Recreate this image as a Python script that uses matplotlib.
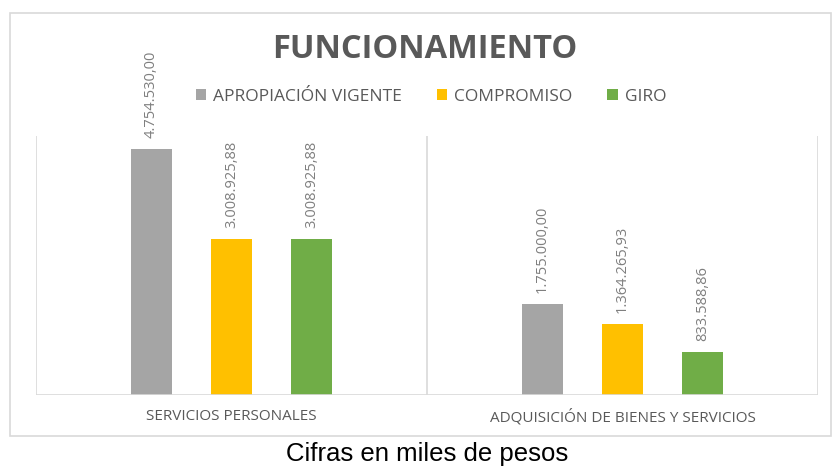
import matplotlib
matplotlib.use("Agg")
import matplotlib.pyplot as plt
from matplotlib.patches import Rectangle, Patch
import numpy as np

categories = ["SERVICIOS PERSONALES", "ADQUISICIÓN DE BIENES Y SERVICIOS"]
series_names = ["APROPIACIÓN VIGENTE", "COMPROMISO", "GIRO"]
apropiacion = [4754530.00, 1755000.00]
compromiso = [3008925.88, 1364265.93]
giro = [3008925.88, 833588.86]
series_values = [apropiacion, compromiso, giro]
colors = ["#A5A5A5", "#FFC000", "#70AD47"]
title = "FUNCIONAMIENTO"
footer = "Cifras en miles de pesos"


def fmt(v):
    s = f"{v:,.2f}"
    return s.replace(",", "X").replace(".", ",").replace("X", ".")


W, H = 832, 466
fig = plt.figure(figsize=(W / 100, H / 100), dpi=100)
fig.patch.set_facecolor("white")

# outer chart frame
fig.add_artist(Rectangle((10 / W, 1 - 436 / H), (831 - 10) / W, (436 - 13) / H,
                         transform=fig.transFigure, fill=False,
                         edgecolor="#D9D9D9", linewidth=1.2))

left, right, top, bottom = 36, 818, 136, 395
ax = fig.add_axes([left / W, 1 - bottom / H, (right - left) / W, (bottom - top) / H])
ax.set_facecolor("none")

x = np.arange(len(categories))
offsets = [-0.2046, 0.0, 0.2046]
bw = 0.107
for vals, off, c, name in zip(series_values, offsets, colors, series_names):
    bars = ax.bar(x + off, vals, width=bw, color=c, label=name, zorder=3)
    for b, v in zip(bars, vals):
        ax.annotate(fmt(v), (b.get_x() + b.get_width() / 2, v),
                    xytext=(0, 8), textcoords="offset points",
                    rotation=90, ha="center", va="bottom",
                    fontsize=10.5, color="#7F7F7F", family="Open Sans")

ax.set_xlim(-0.5, 1.5)
ax.set_ylim(0, 5000000)
for s in ax.spines.values():
    s.set_visible(False)
ax.axhline(0, color="#D9D9D9", linewidth=1.2, zorder=4)
for xv in [-0.5, 0.5, 1.5]:
    ax.axvline(xv, color="#D9D9D9", linewidth=1.2, zorder=1)
ax.set_yticks([])
ax.set_xticks(x)
ax.set_xticklabels(categories, fontsize=11, color="#595959", family="Open Sans")
ax.tick_params(axis="x", length=0, pad=10)

fig.text(425 / W, 1 - 50 / H, title, ha="center", va="center",
         fontsize=23.5, fontweight="bold", color="#595959", family="Open Sans")

handles = [Patch(facecolor=c, edgecolor="none") for c in colors]
fig.legend(handles, series_names, loc="center", bbox_to_anchor=(431 / W, 1 - 97 / H),
           ncol=3, frameon=False, handlelength=0.6, handleheight=0.6,
           handletextpad=0.4, columnspacing=2.0,
           prop={"family": "Open Sans", "size": 12.5}, labelcolor="#595959")

fig.text(427 / W, 1 - 461 / H, footer, ha="center", va="baseline",
         fontsize=18.5, color="black", family="Liberation Sans")

fig.savefig("out.png", dpi=100, facecolor="white")
